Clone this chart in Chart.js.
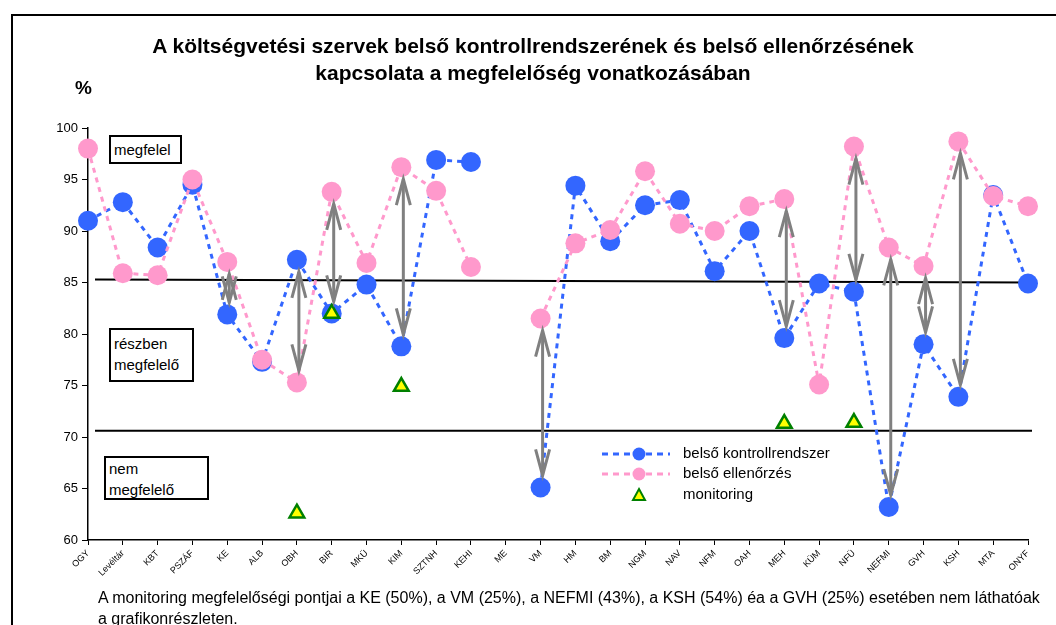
<!DOCTYPE html>
<html>
<head>
<meta charset="utf-8">
<script src="https://cdn.jsdelivr.net/npm/chart.js@4"></script>
<style>
  body { margin: 0; background: #fff; font-family: "Liberation Sans", Arial, sans-serif; }
  #wrap { position: relative; width: 1056px; height: 625px; overflow: hidden; }
  #frame { position: absolute; left: 11px; top: 14px; width: 1100px; height: 700px;
           border-left: 2px solid #000; border-top: 2px solid #000; }
  canvas { position: absolute; left: 0; top: 0; }
  .title { position: absolute; left: 0; width: 1066px; top: 32px; text-align: center;
           font-weight: bold; font-size: 21px; line-height: 27px; }
  .pct { position: absolute; left: 75px; top: 77px; font-weight: bold; font-size: 19px; }
  .zone { position: absolute; border: 2px solid #000; background: #fff; font-size: 15px;
          line-height: 21px; padding-left: 3px; box-sizing: border-box; white-space: nowrap; }
  .note { position: absolute; left: 98px; top: 587px; font-size: 16px; line-height: 21px; white-space: nowrap; }
</style>
</head>
<body>
<div id="wrap">
  <div id="frame"></div>
  <canvas id="chart" width="1056" height="625"></canvas>
  <div class="title">A költségvetési szervek belső kontrollrendszerének és belső ellenőrzésének<br>kapcsolata a megfelelőség vonatkozásában</div>
  <div class="pct">%</div>
  <div class="zone" style="left:109px;top:135px;width:73px;height:29px;padding-top:2px;">megfelel</div>
  <div class="zone" style="left:109px;top:328px;width:85px;height:54px;padding-top:3px;">részben<br>megfelelő</div>
  <div class="zone" style="left:104px;top:456px;width:105px;height:44px;padding-top:0px;">nem<br>megfelelő</div>
  <div class="note">A monitoring megfelelőségi pontjai a KE (50%), a VM (25%), a NEFMI (43%), a KSH (54%) éa a GVH (25%) esetében nem láthatóak<br>a grafikonrészleten.</div>
</div>

<script>
// -----------------------------
// DATA
// -----------------------------
const categories = ['OGY', 'Levéltár', 'KBT', 'PSZÁF', 'KE', 'ALB', 'OBH', 'BIR', 'MKÜ', 'KIM',
  'SZTNH', 'KEHI', 'ME', 'VM', 'HM', 'BM', 'NGM', 'NAV', 'NFM', 'OAH', 'MEH', 'KÜM', 'NFÜ',
  'NEFMI', 'GVH', 'KSH', 'MTA', 'ONYF'];

const kontroll = [91.0, 92.8, 88.4, 94.5, 81.9, 77.3, 87.2, 82.0, 84.8, 78.8,
  96.9, 96.7, null, 65.1, 94.4, 89.0, 92.5, 93.0, 86.1, 90.0, 79.6, 84.9, 84.1,
  63.2, 79.0, 73.9, 93.5, 84.9];

const ellenorzes = [98.0, 85.9, 85.7, 95.0, 87.0, 77.5, 75.3, 93.8, 86.9, 96.2,
  93.9, 86.5, null, 81.5, 88.8, 90.1, 95.8, 90.7, 90.0, 92.4, 93.1, 75.1, 98.2,
  88.4, 86.6, 98.7, 93.4, 92.4];

const monitoring = [null, null, null, null, null, null, 62.6, 82.0, null, 74.9,
  null, null, null, null, null, null, null, null, null, null, 71.3, null, 71.4,
  null, null, null, null, null];

// categories where the gap between the two series is marked with an arrow
const arrowCategories = ['KE', 'OBH', 'BIR', 'KIM', 'VM', 'MEH', 'NFÜ', 'NEFMI', 'GVH', 'KSH'];

// zone borders: [value at left end, value at right end]
const zoneLines = [[85.3, 85.0], [70.6, 70.6]];

const yTicks = [60, 65, 70, 75, 80, 85, 90, 95, 100];

const BLUE = '#3366ff';
const PINK = '#ff99cc';
const FONT = '"Liberation Sans", Arial, sans-serif';

// -----------------------------
// PLUGINS
// -----------------------------
const zonePlugin = {
  id: 'zones',
  beforeDatasetsDraw(chart) {
    const { ctx, chartArea, scales } = chart;
    ctx.save();
    ctx.strokeStyle = '#000';
    ctx.lineWidth = 2;
    zoneLines.forEach(([a, b]) => {
      ctx.beginPath();
      ctx.moveTo(chartArea.left + 7, scales.y.getPixelForValue(a));
      ctx.lineTo(chartArea.right + 4, scales.y.getPixelForValue(b));
      ctx.stroke();
    });
    ctx.restore();
  }
};

function arrowHead(ctx, x, y, dir) {
  ctx.beginPath();
  ctx.moveTo(x - 7, y + dir * 26);
  ctx.lineTo(x, y);
  ctx.lineTo(x + 7, y + dir * 26);
  ctx.stroke();
}

const arrowPlugin = {
  id: 'arrows',
  afterDatasetsDraw(chart) {
    const { ctx, scales } = chart;
    ctx.save();
    ctx.strokeStyle = '#808080';
    ctx.lineWidth = 3;
    arrowCategories.forEach(cat => {
      const i = categories.indexOf(cat);
      const x = scales.x.getPixelForValue(i) + 2;
      const y1 = scales.y.getPixelForValue(Math.max(kontroll[i], ellenorzes[i]));
      const y2 = scales.y.getPixelForValue(Math.min(kontroll[i], ellenorzes[i]));
      const top = y1 + 12, bottom = y2 - 12;
      ctx.beginPath();
      ctx.moveTo(x, top);
      ctx.lineTo(x, bottom);
      ctx.stroke();
      arrowHead(ctx, x, top, 1);
      arrowHead(ctx, x, bottom, -1);
    });
    ctx.restore();
  }
};

const legendPlugin = {
  id: 'customLegend',
  afterDraw(chart) {
    const { ctx } = chart;
    const rows = [
      { label: 'belső kontrollrendszer', color: BLUE, y: 454 },
      { label: 'belső ellenőrzés', color: PINK, y: 474 },
      { label: 'monitoring', color: null, y: 495 }
    ];
    ctx.save();
    rows.forEach(r => {
      if (r.color) {
        ctx.strokeStyle = r.color;
        ctx.lineWidth = 3;
        ctx.setLineDash([6, 5]);
        ctx.beginPath();
        ctx.moveTo(602, r.y);
        ctx.lineTo(670, r.y);
        ctx.stroke();
        ctx.setLineDash([]);
        ctx.fillStyle = r.color;
        ctx.beginPath();
        ctx.arc(639, r.y, 6.5, 0, Math.PI * 2);
        ctx.fill();
      } else {
        ctx.fillStyle = '#ffff00';
        ctx.strokeStyle = '#008000';
        ctx.lineWidth = 2;
        ctx.beginPath();
        ctx.moveTo(639, r.y - 6);
        ctx.lineTo(645, r.y + 5);
        ctx.lineTo(633, r.y + 5);
        ctx.closePath();
        ctx.fill();
        ctx.stroke();
      }
      ctx.fillStyle = '#000';
      ctx.font = '15px ' + FONT;
      ctx.textBaseline = 'middle';
      ctx.fillText(r.label, 683, r.y);
    });
    ctx.restore();
  }
};

// -----------------------------
// CHART
// -----------------------------
const ctx = document.getElementById('chart').getContext('2d');

new Chart(ctx, {
  type: 'line',
  data: {
    labels: categories,
    datasets: [
      {
        label: 'belső kontrollrendszer',
        data: kontroll,
        borderColor: BLUE,
        backgroundColor: BLUE,
        borderWidth: 3,
        borderDash: [5, 5],
        pointRadius: 10,
        pointBorderWidth: 0,
        pointBackgroundColor: BLUE,
        spanGaps: false,
        order: 3,
        clip: false
      },
      {
        label: 'belső ellenőrzés',
        data: ellenorzes,
        borderColor: PINK,
        backgroundColor: PINK,
        borderWidth: 3,
        borderDash: [5, 5],
        pointRadius: 10,
        pointBorderWidth: 0,
        pointBackgroundColor: PINK,
        spanGaps: false,
        order: 2,
        clip: false
      },
      {
        label: 'monitoring',
        data: monitoring,
        showLine: false,
        pointStyle: 'triangle',
        pointRadius: 8.5,
        pointBorderWidth: 2.5,
        pointBorderColor: '#008000',
        pointBackgroundColor: '#ffff00',
        order: 1,
        clip: false
      }
    ]
  },
  options: {
    responsive: false,
    animation: false,
    layout: { padding: { left: 20, right: 28, top: 128, bottom: 0 } },
    plugins: {
      legend: { display: false },
      title: { display: false },
      tooltip: { enabled: false }
    },
    scales: {
      x: {
        offset: false,
        grid: { display: true, drawOnChartArea: false, drawTicks: true, tickLength: 5, color: '#000' },
        border: { color: '#000', width: 1.5 },
        ticks: {
          autoSkip: false, minRotation: 45, maxRotation: 45, padding: 3, color: '#000',
          font: { family: FONT, size: 9 }
        },
        afterFit(scale) { scale.height = 85; }
      },
      y: {
        min: 60,
        max: 100,
        afterBuildTicks(scale) { scale.ticks = yTicks.map(v => ({ value: v })); },
        grid: { display: true, drawOnChartArea: false, drawTicks: true, tickLength: 6, color: '#000' },
        border: { color: '#000', width: 1.5 },
        ticks: {
          padding: 4, color: '#000',
          font: { family: FONT, size: 13 }
        },
        afterFit(scale) { scale.width = 68; }
      }
    }
  },
  plugins: [zonePlugin, arrowPlugin, legendPlugin]
});
</script>
</body>
</html>
